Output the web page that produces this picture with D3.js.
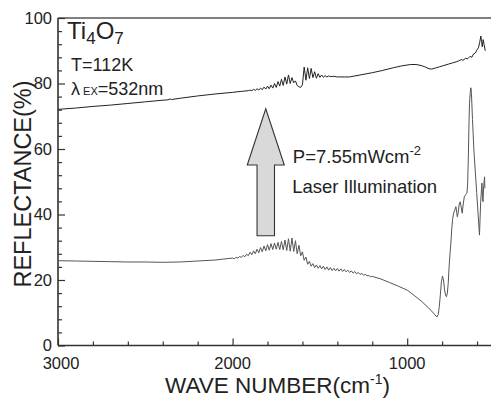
<!DOCTYPE html>
<html>
<head>
<meta charset="utf-8">
<script src="https://cdn.jsdelivr.net/npm/d3@7"></script>
<style>
  html, body { margin: 0; padding: 0; background: #fff; }
  svg { display: block; }
  text { font-family: "Liberation Sans", Arial, Helvetica, sans-serif; fill: #222; }
</style>
</head>
<body>
<svg id="chart" width="493" height="398"></svg>
<script>
// ---------------- data ----------------
const xDomain = [3000, 520];
const yDomain = [0, 100];
const xMajorTicks = [3000, 2000, 1000];
const xMinorTicks = [2800, 2600, 2400, 2200, 1800, 1600, 1400, 1200, 800, 600];
const yMajorTicks = [0, 20, 40, 60, 80, 100];
const yMinorTicks = [4, 8, 12, 16, 24, 28, 32, 36, 44, 48, 52, 56, 64, 68, 72, 76, 84, 88, 92, 96];

// Upper curve (under laser illumination): [wave number, reflectance %]
const upperBase = [
  [3000, 72.1], [2900, 72.5], [2800, 73.0], [2700, 73.4], [2600, 73.9], [2500, 74.4],
  [2400, 74.9], [2370, 75.0], [2358, 75.3], [2350, 75.1], [2300, 75.5], [2200, 76.2],
  [2100, 76.8], [2000, 77.3], [1950, 77.6], [1910, 77.8]
];
const upperFringe = [
  [1900, 78.0], [1890, 77.8], [1880, 78.2], [1870, 77.9], [1860, 78.4], [1850, 78.0],
  [1840, 78.6], [1830, 78.1], [1820, 78.9], [1810, 78.3], [1800, 79.2], [1790, 78.4],
  [1780, 79.5], [1770, 78.6], [1760, 80.0], [1750, 78.8], [1740, 80.6], [1730, 79.2],
  [1720, 81.3], [1710, 79.4], [1700, 82.0], [1690, 79.8], [1680, 82.6], [1670, 80.0],
  [1660, 81.8], [1650, 80.2], [1640, 80.8], [1630, 79.4], [1620, 79.0], [1610, 78.8],
  [1600, 79.6], [1590, 85.0], [1580, 81.0], [1570, 84.8], [1560, 81.5], [1550, 84.6],
  [1540, 81.8], [1530, 83.6], [1520, 81.6], [1510, 83.0], [1500, 81.9], [1490, 82.6],
  [1480, 81.9], [1470, 82.4], [1460, 82.0], [1450, 82.3], [1440, 82.1], [1420, 82.2]
];
const upperTail = [
  [1400, 82.0], [1330, 82.0], [1270, 82.6], [1200, 83.3], [1140, 84.0], [1080, 84.8],
  [1030, 85.4], [980, 85.8], [950, 85.8], [920, 85.5], [895, 85.0], [875, 84.5],
  [860, 84.4], [840, 84.7], [815, 85.1], [790, 85.5], [765, 85.9], [740, 86.3],
  [720, 86.6], [705, 86.9], [690, 87.3], [680, 87.1], [665, 87.7], [655, 87.5],
  [640, 88.3], [630, 88.0], [620, 89.0], [610, 89.3], [600, 90.3], [592, 90.9],
  [585, 92.5], [578, 94.5], [574, 92.8], [570, 91.2], [565, 93.4], [560, 92.0], [553, 90.0]
];

// Lower curve (before illumination): [wave number, reflectance %]
const lowerBase = [
  [3000, 25.9], [2900, 25.8], [2800, 25.7], [2700, 25.6], [2600, 25.5], [2500, 25.5],
  [2400, 25.4], [2300, 25.5], [2200, 25.8], [2100, 26.1], [2050, 26.4]
];
const lowerFringe = [
  [2000, 26.7], [1990, 26.5], [1980, 26.9], [1970, 26.7], [1960, 27.2], [1950, 26.9],
  [1940, 27.5], [1930, 27.1], [1920, 27.9], [1910, 27.4], [1900, 28.5], [1890, 27.7],
  [1880, 28.9], [1870, 28.0], [1860, 29.4], [1850, 28.3], [1840, 29.9], [1830, 28.6],
  [1820, 30.4], [1810, 28.9], [1800, 30.8], [1790, 29.1], [1780, 31.1], [1770, 29.3],
  [1760, 31.3], [1750, 29.4], [1740, 31.5], [1730, 29.3], [1720, 31.8], [1710, 29.2],
  [1700, 32.2], [1690, 29.0], [1680, 32.6], [1670, 28.8], [1660, 32.8], [1650, 28.7],
  [1640, 32.0], [1630, 28.0], [1620, 30.6], [1610, 27.4], [1600, 28.6], [1590, 26.0],
  [1580, 27.0], [1570, 24.8], [1560, 25.7], [1550, 24.2], [1540, 25.0], [1530, 23.8],
  [1520, 24.6], [1510, 23.6], [1500, 24.4], [1490, 23.4], [1480, 24.2], [1470, 23.2],
  [1460, 24.0], [1450, 23.0], [1440, 23.8], [1430, 22.9], [1420, 23.6], [1410, 22.8],
  [1400, 23.5], [1390, 22.7], [1380, 23.4], [1370, 22.6], [1360, 23.2], [1350, 22.5],
  [1340, 23.0], [1330, 22.3], [1320, 22.8], [1310, 22.1], [1300, 22.6], [1290, 21.9],
  [1280, 22.3], [1270, 21.7], [1260, 22.0], [1250, 21.5], [1240, 21.7], [1230, 21.3],
  [1220, 21.4], [1210, 21.0], [1200, 21.1]
];
const lowerPhonon = [
  [1150, 20.3], [1100, 19.2], [1050, 18.1], [1000, 16.9], [960, 15.3], [920, 13.6],
  [880, 11.6], [860, 10.5], [845, 9.6], [830, 8.7], [822, 9.5], [816, 12.0],
  [810, 15.5], [804, 19.5], [798, 21.2], [792, 20.0], [786, 17.0], [780, 15.3],
  [775, 14.9], [770, 16.0], [765, 19.0], [760, 24.0], [755, 28.0], [750, 31.0],
  [745, 35.5], [740, 38.5], [735, 40.2], [728, 41.3], [721, 42.4], [716, 40.5],
  [713, 39.3], [708, 40.5], [702, 43.2], [696, 43.9], [690, 42.0], [685, 40.4],
  [679, 43.2], [673, 45.4], [665, 46.1], [658, 46.5], [654, 49.0], [650, 57.0],
  [646, 68.0], [643, 74.0], [639, 77.3], [635, 78.7], [632, 77.0], [626, 69.0],
  [618, 59.7], [602, 46.7], [586, 33.7], [579, 44.0], [572, 49.6], [569, 46.0],
  [566, 43.9], [562, 48.5], [557, 51.5], [555, 48.0]
];

const upperSeries = upperBase.concat(upperFringe, upperTail);
const lowerSeries = lowerBase.concat(lowerFringe, lowerPhonon);

// Arrow annotation in data units
const arrowSpec = { wn: 1810, bottom: 33.5, headBase: 55.1, tip: 72.3, shaftHalf: 50, headHalf: 106 };

// ---------------- drawing ----------------
const svg = d3.select("#chart");
const x = d3.scaleLinear().domain(xDomain).range([58, 491]);
const y = d3.scaleLinear().domain(yDomain).range([345.5, 18]);

// top border
svg.append("line")
  .attr("x1", x(xDomain[0])).attr("x2", x(xDomain[1]))
  .attr("y1", y(100)).attr("y2", y(100))
  .attr("stroke", "#808080").attr("stroke-width", 2);

// ticks
const gx = svg.append("g").attr("transform", `translate(0,${y(0)})`);
gx.call(d3.axisTop(x).tickValues(xMinorTicks).tickSize(4).tickFormat(""));
gx.select(".domain").remove();
const gx2 = svg.append("g").attr("transform", `translate(0,${y(0)})`);
gx2.call(d3.axisTop(x).tickValues(xMajorTicks).tickSize(7).tickFormat(""));
gx2.select(".domain").attr("d", `M${x(xDomain[0])},0H${x(xDomain[1])}`);

const gy = svg.append("g").attr("transform", `translate(${x(xDomain[0])},0)`);
gy.call(d3.axisRight(y).tickValues(yMinorTicks).tickSize(4).tickFormat(""));
gy.select(".domain").remove();
const gy2 = svg.append("g").attr("transform", `translate(${x(xDomain[0])},0)`);
gy2.call(d3.axisRight(y).tickValues(yMajorTicks).tickSize(7).tickFormat(""));
gy2.select(".domain").attr("d", `M0,${y(0)}V${y(100)}`);

svg.selectAll(".tick line").attr("stroke", "#333").attr("stroke-width", 1.2);
svg.selectAll(".domain").attr("stroke", "#333").attr("stroke-width", 1.6);

// tick labels
svg.append("g").selectAll("text").data(yMajorTicks).join("text")
  .attr("x", x(xDomain[0]) - 6).attr("y", d => y(d) + 5.5)
  .attr("text-anchor", "end").attr("font-size", 16.5).text(d => d);
svg.append("g").selectAll("text").data(xMajorTicks).join("text")
  .attr("x", d => x(d) + (d === 3000 ? 3 : 0)).attr("y", 368.5)
  .attr("text-anchor", "middle").attr("font-size", 16.5).text(d => d);

// axis titles
svg.append("text")
  .attr("transform", `translate(31,${184}) rotate(-90)`)
  .attr("text-anchor", "middle").attr("font-size", 23.5)
  .text("REFLECTANCE(%)");
const xt = svg.append("text").attr("x", 165).attr("y", 393).attr("font-size", 22.5);
xt.append("tspan").text("WAVE NUMBER(cm");
xt.append("tspan").attr("font-size", 14).attr("dy", -9).text("-1");
xt.append("tspan").attr("dy", 9).text(")");

// curves
const line = d3.line().x(d => x(d[0])).y(d => y(d[1]));
svg.append("path").datum(lowerSeries).attr("d", line)
  .attr("fill", "none").attr("stroke", "#555").attr("stroke-width", 1);
svg.append("path").datum(upperSeries).attr("d", line)
  .attr("fill", "none").attr("stroke", "#222").attr("stroke-width", 1);

// arrow
const a = arrowSpec;
const pts = [
  [a.wn + a.shaftHalf, a.bottom], [a.wn + a.shaftHalf, a.headBase], [a.wn + a.headHalf, a.headBase],
  [a.wn, a.tip], [a.wn - a.headHalf, a.headBase], [a.wn - a.shaftHalf, a.headBase],
  [a.wn - a.shaftHalf, a.bottom]
];
svg.append("path")
  .attr("d", d3.line().x(d => x(d[0])).y(d => y(d[1])).curve(d3.curveLinearClosed)(pts))
  .attr("fill", "#d9d9d9").attr("stroke", "#333").attr("stroke-width", 1.1);

// annotations
const t1 = svg.append("text").attr("x", x(2948)).attr("y", y(93.6)).attr("font-size", 24);
t1.append("tspan").text("Ti");
t1.append("tspan").attr("font-size", 17).attr("dy", 5).text("4");
t1.append("tspan").attr("dy", -5).text("O");
t1.append("tspan").attr("font-size", 17).attr("dy", 5).text("7");

svg.append("text").attr("x", x(2925)).attr("y", y(83.9)).attr("font-size", 18).text("T=112K");
const t3 = svg.append("text").attr("x", x(2925)).attr("y", y(76.5)).attr("font-size", 18);
t3.append("tspan").text("λ");
t3.append("tspan").attr("font-size", 11).attr("dx", 3).text("EX");
t3.append("tspan").text("=532nm");

const t4 = svg.append("text").attr("x", x(1655)).attr("y", y(55.6)).attr("font-size", 18.5);
t4.append("tspan").text("P=7.55mWcm");
t4.append("tspan").attr("font-size", 13).attr("dy", -8).text("-2");
svg.append("text").attr("x", x(1659)).attr("y", y(46.5)).attr("font-size", 18.5).text("Laser Illumination");
</script>
</body>
</html>
